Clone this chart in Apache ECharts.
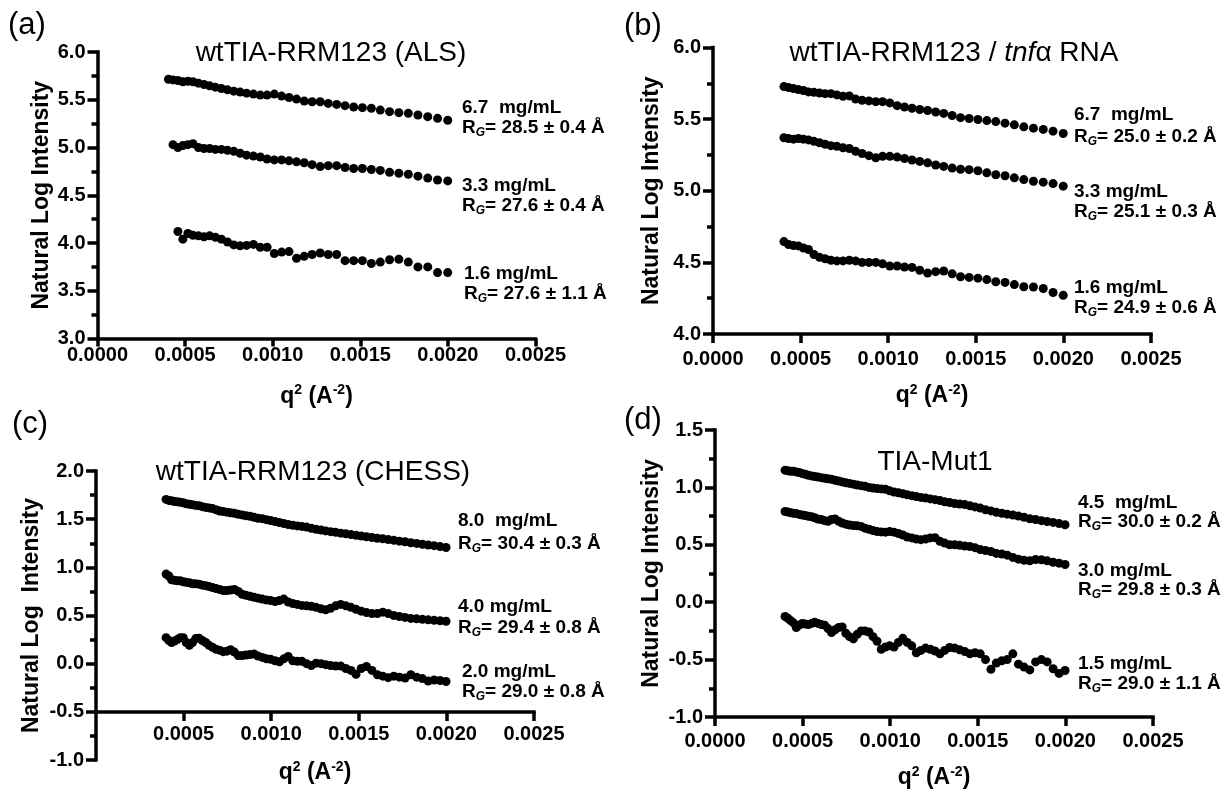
<!DOCTYPE html>
<html><head><meta charset="utf-8">
<script src="https://cdn.jsdelivr.net/npm/echarts@6/dist/echarts.min.js"></script>
<style>html,body{margin:0;padding:0;background:#fff}#c{width:1230px;height:795px}</style>
</head><body><div id="c"></div>
<script>
// q^2 sampling (A^-2)
const xAB = [0.000405,0.000431,0.000459,0.000487,0.000516,0.000545,0.000576,0.000608,0.000640,0.000673,0.000707,0.000742,0.000778,0.000814,0.000851,0.000890,0.000929,0.000968,0.001009,0.001051,0.001093,0.001136,0.001180,0.001225,0.001271,0.001317,0.001365,0.001413,0.001462,0.001512,0.001563,0.001614,0.001667,0.001720,0.001774,0.001829,0.001885,0.001941,0.001999];
const xCD = [0.000400,0.000416,0.000431,0.000448,0.000464,0.000481,0.000498,0.000515,0.000533,0.000551,0.000569,0.000588,0.000607,0.000626,0.000645,0.000665,0.000685,0.000706,0.000726,0.000747,0.000768,0.000790,0.000812,0.000834,0.000856,0.000879,0.000902,0.000925,0.000949,0.000973,0.000997,0.001022,0.001047,0.001072,0.001097,0.001123,0.001149,0.001175,0.001202,0.001229,0.001256,0.001284,0.001311,0.001339,0.001368,0.001397,0.001426,0.001455,0.001484,0.001514,0.001544,0.001575,0.001606,0.001637,0.001668,0.001700,0.001732,0.001764,0.001797,0.001830,0.001863,0.001896,0.001930,0.001964,0.001998];

// (a) wtTIA-RRM123 (ALS)
const a67 = [5.715,5.708,5.701,5.688,5.694,5.688,5.674,5.660,5.646,5.632,5.618,5.604,5.590,5.580,5.569,5.559,5.549,5.549,5.559,5.538,5.524,5.507,5.486,5.479,5.479,5.462,5.451,5.438,5.424,5.417,5.410,5.392,5.375,5.365,5.358,5.340,5.323,5.305,5.285];
const a33 = [5.03,5.00,5.02,5.03,5.04,5.00,4.99,4.99,4.98,4.98,4.97,4.96,4.94,4.92,4.91,4.90,4.88,4.87,4.87,4.86,4.85,4.84,4.82,4.80,4.81,4.81,4.79,4.78,4.78,4.77,4.76,4.74,4.73,4.72,4.70,4.68,4.66,4.65];
const a16 = [4.12,4.04,4.10,4.08,4.075,4.066,4.075,4.06,4.04,4.01,3.98,3.97,3.975,3.985,3.955,3.955,3.89,3.905,3.91,3.84,3.86,3.88,3.895,3.88,3.88,3.815,3.815,3.815,3.785,3.80,3.825,3.83,3.80,3.75,3.75,3.69,3.69];
// (b) wtTIA-RRM123 / tnfα RNA
const b67 = [5.727,5.72,5.713,5.706,5.70,5.69,5.687,5.682,5.678,5.678,5.669,5.66,5.662,5.64,5.632,5.627,5.622,5.622,5.613,5.594,5.585,5.576,5.567,5.56,5.55,5.54,5.525,5.51,5.504,5.497,5.49,5.483,5.472,5.46,5.446,5.437,5.428,5.416,5.40];
const b33 = [5.37,5.365,5.36,5.365,5.36,5.355,5.345,5.335,5.325,5.315,5.31,5.30,5.295,5.275,5.26,5.245,5.23,5.24,5.24,5.235,5.225,5.215,5.205,5.195,5.18,5.17,5.158,5.15,5.147,5.14,5.125,5.112,5.105,5.09,5.078,5.066,5.06,5.05,5.032];
const b16 = [4.645,4.625,4.618,4.615,4.60,4.59,4.555,4.535,4.525,4.515,4.51,4.51,4.515,4.51,4.50,4.50,4.50,4.49,4.475,4.475,4.468,4.465,4.445,4.425,4.435,4.44,4.42,4.40,4.395,4.39,4.38,4.365,4.36,4.345,4.33,4.328,4.318,4.29,4.27];
// (c) wtTIA-RRM123 (CHESS)
const c80 = [1.705,1.695,1.69,1.683,1.68,1.675,1.67,1.66,1.655,1.65,1.643,1.64,1.63,1.622,1.617,1.61,1.598,1.585,1.58,1.573,1.567,1.562,1.55,1.544,1.535,1.53,1.52,1.51,1.505,1.495,1.486,1.475,1.465,1.455,1.445,1.437,1.43,1.425,1.418,1.405,1.395,1.387,1.378,1.37,1.363,1.355,1.348,1.34,1.333,1.325,1.318,1.31,1.302,1.296,1.288,1.28,1.272,1.265,1.255,1.248,1.24,1.232,1.225,1.215,1.206];
const c40 = [0.93,0.91,0.87,0.865,0.86,0.86,0.85,0.845,0.84,0.83,0.83,0.825,0.815,0.81,0.80,0.79,0.78,0.77,0.76,0.76,0.765,0.77,0.75,0.72,0.71,0.70,0.69,0.68,0.67,0.66,0.655,0.645,0.655,0.67,0.64,0.625,0.615,0.605,0.60,0.595,0.585,0.57,0.56,0.575,0.60,0.615,0.60,0.585,0.565,0.545,0.53,0.52,0.52,0.535,0.52,0.50,0.49,0.48,0.47,0.465,0.46,0.455,0.45,0.445,0.44];
const c20 = [0.27,0.24,0.22,0.235,0.25,0.27,0.27,0.22,0.19,0.22,0.26,0.265,0.24,0.22,0.19,0.17,0.15,0.14,0.125,0.13,0.145,0.12,0.085,0.085,0.09,0.095,0.10,0.08,0.065,0.05,0.045,0.03,0.02,0.05,0.075,0.03,0.025,0.025,0.0,-0.02,0.005,0.0,-0.01,-0.02,-0.025,-0.025,-0.05,-0.07,-0.11,-0.05,-0.03,-0.07,-0.115,-0.13,-0.145,-0.13,-0.14,-0.15,-0.115,-0.14,-0.155,-0.18,-0.17,-0.175,-0.185];
// (d) TIA-Mut1
const d45 = [1.15,1.145,1.14,1.14,1.135,1.13,1.12,1.115,1.105,1.10,1.095,1.09,1.085,1.08,1.075,1.07,1.062,1.055,1.048,1.04,1.035,1.028,1.02,1.015,1.01,1.00,0.995,0.99,0.987,0.983,0.97,0.96,0.953,0.945,0.935,0.928,0.92,0.913,0.908,0.90,0.893,0.885,0.875,0.868,0.86,0.855,0.85,0.84,0.83,0.82,0.805,0.795,0.783,0.775,0.767,0.76,0.75,0.74,0.727,0.72,0.71,0.703,0.695,0.685,0.675];
const d30 = [0.79,0.785,0.78,0.775,0.772,0.765,0.76,0.755,0.748,0.744,0.735,0.725,0.72,0.71,0.705,0.72,0.725,0.705,0.69,0.68,0.672,0.668,0.665,0.66,0.645,0.635,0.625,0.615,0.612,0.61,0.615,0.61,0.598,0.585,0.568,0.56,0.55,0.545,0.55,0.56,0.562,0.53,0.515,0.50,0.50,0.495,0.49,0.485,0.475,0.458,0.45,0.442,0.425,0.42,0.41,0.39,0.375,0.365,0.36,0.372,0.37,0.36,0.348,0.34,0.328];
const d15 = [-0.125,-0.14,-0.16,-0.18,-0.22,-0.20,-0.185,-0.19,-0.195,-0.185,-0.175,-0.185,-0.195,-0.20,-0.23,-0.265,-0.24,-0.22,-0.215,-0.27,-0.30,-0.32,-0.28,-0.25,-0.25,-0.26,-0.30,-0.34,-0.41,-0.39,-0.38,-0.39,-0.35,-0.315,-0.35,-0.38,-0.44,-0.42,-0.40,-0.41,-0.425,-0.45,-0.42,-0.395,-0.40,-0.415,-0.43,-0.45,-0.44,-0.45,-0.50,-0.585,-0.53,-0.51,-0.50,-0.45,-0.54,-0.565,-0.59,-0.52,-0.50,-0.52,-0.58,-0.62,-0.595];

// texts
const panelLetters = ['(a)','(b)','(c)','(d)'];
const concA = ['6.7  mg/mL','3.3 mg/mL','1.6 mg/mL'];
const rgA = ['28.5 ± 0.4 Å','27.6 ± 0.4 Å','27.6 ± 1.1 Å'];
const concB = ['6.7  mg/mL','3.3 mg/mL','1.6 mg/mL'];
const rgB = ['25.0 ± 0.2 Å','25.1 ± 0.3 Å','24.9 ± 0.6 Å'];
const concC = ['8.0  mg/mL','4.0 mg/mL','2.0 mg/mL'];
const rgC = ['30.4 ± 0.3 Å','29.4 ± 0.8 Å','29.0 ± 0.8 Å'];
const concD = ['4.5  mg/mL','3.0 mg/mL','1.5 mg/mL'];
const rgD = ['30.0 ± 0.2 Å','29.8 ± 0.3 Å','29.0 ± 1.1 Å'];

const FF = '"Liberation Sans", Arial, Helvetica, sans-serif';
function zip(xs, ys){ const off = xs.length - ys.length; return ys.map((y,i)=>[xs[i+off], y]); }

const grids = [
  {left:97.5, top:52, width:438, height:286.5},
  {left:713, top:47.5, width:438, height:286.5},
  {left:96, top:471, width:438, height:289},
  {left:715, top:430, width:438, height:287}
].map(g=>Object.assign({containLabel:false, outerBoundsMode:'none'}, g));

const xName = '{m|q}{s|2}{m| (A}{s|-2}{m|)}';
const xNameStyle = {rich:{
  m:{fontSize:23, fontWeight:'bold', fontFamily:FF, color:'#000', lineHeight:26},
  s:{fontSize:14, fontWeight:'bold', fontFamily:FF, color:'#000', verticalAlign:'top', lineHeight:14}
}};
const TICKFONT = 20;
function xLabel(margin, extra){
  return Object.assign({fontSize:TICKFONT, fontWeight:'bold', fontFamily:FF, color:'#000', margin:margin,
    formatter:v=>v.toFixed(4)}, extra||{});
}
function xAxis(i, opts){
  return Object.assign({
    type:'value', gridIndex:i, min:0, max:0.0025, interval:0.0005,
    position:'bottom',
    name:xName, nameLocation:'middle', nameGap:45, nameTextStyle:xNameStyle,
    axisLine:{show:true, onZero:false, lineStyle:{color:'#000', width:3.5, cap:'square'}},
    axisTick:{show:true, length:9, lineStyle:{color:'#000', width:3.5}},
    minorTick:{show:false},
    splitLine:{show:false},
    axisLabel:xLabel(9)
  }, opts);
}
function yAxis(i, min, max, name, opts){
  return Object.assign({
    type:'value', gridIndex:i, min:min, max:max, interval:0.5,
    name:name, nameLocation:'middle', nameGap:46,
    nameTextStyle:{fontSize:23, fontWeight:'bold', fontFamily:FF, color:'#000'},
    axisLine:{show:true, onZero:false, lineStyle:{color:'#000', width:3.5, cap:'square'}},
    axisTick:{show:true, length:10, lineStyle:{color:'#000', width:3.5}},
    minorTick:{show:true, splitNumber:2, length:6, lineStyle:{color:'#000', width:3.5}},
    splitLine:{show:false}, minorSplitLine:{show:false},
    axisLabel:{fontSize:TICKFONT, fontWeight:'bold', fontFamily:FF, color:'#000', margin:12,
      formatter:v=>v.toFixed(1)}
  }, opts);
}

function sc(xi, xs, ys, size){
  return {type:'scatter', xAxisIndex:xi, yAxisIndex:xi, data:zip(xs, ys),
    symbol:'circle', symbolSize:size, itemStyle:{color:'#000', opacity:1, borderWidth:0},
    emphasis:{disabled:true}, silent:true, animation:false};
}

const rgRich = {
  r:{fontSize:19, fontWeight:'bold', fontFamily:FF, fill:'#000', color:'#000', lineHeight:22},
  g:{fontSize:12, fontWeight:'bold', fontStyle:'italic', fontFamily:FF, fill:'#000', color:'#000', verticalAlign:'bottom', lineHeight:12}
};
function annot(x, y1, y2, conc, rg){
  return [
    {type:'text', x:x, y:y1, style:{text:conc, font:'bold 19px '+FF, fill:'#000', align:'left', verticalAlign:'middle'}},
    {type:'text', x:x, y:y2, style:{text:'{r|R}{g|G}{r|= '+rg+'}', rich:rgRich, font:'bold 19px '+FF, fill:'#000', align:'left', verticalAlign:'middle'}}
  ];
}
function ptitle(x, y, text, rich){
  const st = {text:text, font:'28px '+FF, fill:'#000', align:'center', verticalAlign:'middle'};
  if (rich) st.rich = rich;
  return {type:'text', x:x, y:y, style:st};
}
function letter(x, y, t){
  return {type:'text', x:x, y:y, style:{text:t, font:'31px '+FF, fill:'#000', align:'left', verticalAlign:'middle'}};
}

const titleRich = {
  n:{fontSize:28, fontFamily:FF, fill:'#000', color:'#000'},
  i:{fontSize:28, fontStyle:'italic', fontFamily:FF, fill:'#000', color:'#000'}
};

const graphics = [].concat(
  [letter(8, 25, panelLetters[0]), letter(624, 26, panelLetters[1]), letter(12, 424, panelLetters[2]), letter(624, 420, panelLetters[3])],
  [ptitle(331, 53, 'wtTIA-RRM123 (ALS)'),
   ptitle(954, 53, '{n|wtTIA-RRM123 / }{i|tnf}{n|α RNA}', titleRich),
   ptitle(313, 472, 'wtTIA-RRM123 (CHESS)'),
   ptitle(935, 462, 'TIA-Mut1')],
  annot(462, 108, 128, concA[0], rgA[0]), annot(462, 186, 206, concA[1], rgA[1]), annot(464, 274, 294, concA[2], rgA[2]),
  annot(1074, 115, 137, concB[0], rgB[0]), annot(1074, 192, 212, concB[1], rgB[1]), annot(1074, 288, 308, concB[2], rgB[2]),
  annot(458, 521, 544, concC[0], rgC[0]), annot(458, 607, 628, concC[1], rgC[1]), annot(462, 672, 692, concC[2], rgC[2]),
  annot(1078, 503, 522, concD[0], rgD[0]), annot(1078, 571, 590, concD[1], rgD[1]), annot(1078, 664, 684, concD[2], rgD[2])
);

const option = {
  backgroundColor:'#fff',
  animation:false,
  grid: grids,
  xAxis: [
    xAxis(0, {nameGap:45, axisLabel:xLabel(7), axisTick:{show:true, length:8, lineStyle:{color:'#000', width:3.5}}}),
    xAxis(1, {nameGap:49, axisLabel:xLabel(15)}),
    xAxis(2, {offset:-48, nameGap:48, axisLabel:xLabel(12, {showMinLabel:false})}),
    xAxis(3, {nameGap:48, axisLabel:xLabel(14)})
  ],
  yAxis: [
    yAxis(0, 3, 6, 'Natural Log Intensity', {nameGap:44}),
    yAxis(1, 4, 6, 'Natural Log Intensity', {nameGap:50}),
    yAxis(2, -1, 2, 'Natural Log  Intensity', {nameGap:53}),
    yAxis(3, -1, 1.5, 'Natural Log Intensity', {nameGap:52})
  ],
  series: [
    sc(0, xAB, a67, 9), sc(0, xAB, a33, 9), sc(0, xAB, a16, 9),
    sc(1, xAB, b67, 9), sc(1, xAB, b33, 9), sc(1, xAB, b16, 9),
    sc(2, xCD, c80, 9), sc(2, xCD, c40, 9), sc(2, xCD, c20, 9),
    sc(3, xCD, d45, 9), sc(3, xCD, d30, 9), sc(3, xCD, d15, 9)
  ],
  graphic: graphics
};
const chart = echarts.init(document.getElementById('c'), null, {renderer:'canvas'});
chart.setOption(option);
</script></body></html>
